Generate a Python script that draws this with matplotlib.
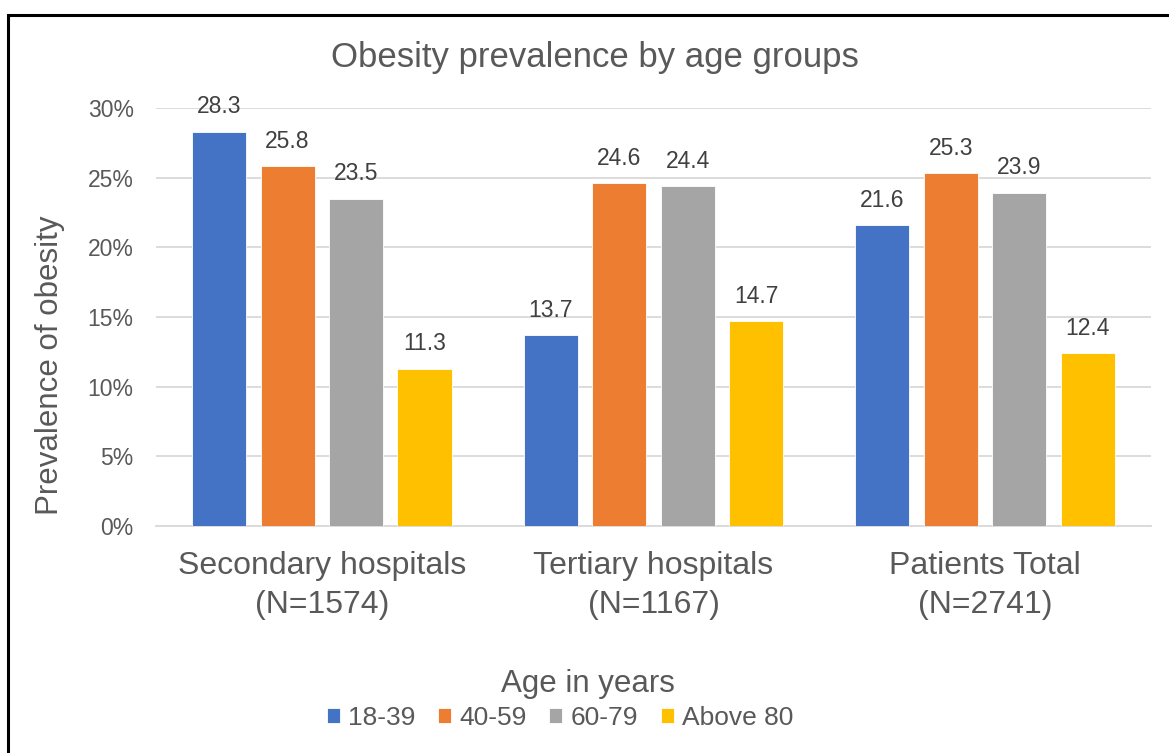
import matplotlib.pyplot as plt
import numpy as np
from matplotlib.patches import Rectangle
from matplotlib import font_manager

plt.rcParams['font.family'] = ['Liberation Sans', 'DejaVu Sans']

# Chart data
categories = ['Secondary hospitals\n(N=1574)', 'Tertiary hospitals\n(N=1167)', 'Patients Total\n(N=2741)']
age_groups = ['18-39', '40-59', '60-79', 'Above 80']
age_18_39 = [28.3, 13.7, 21.6]
age_40_59 = [25.8, 24.6, 25.3]
age_60_79 = [23.5, 24.4, 23.9]
age_80_up = [11.3, 14.7, 12.4]
yticks = [0, 5, 10, 15, 20, 25, 30]

colors = ['#4472C4', '#ED7D31', '#A5A5A5', '#FFC000']
text_color = '#595959'

# the legend in the original uses a narrow font; use one if there is one
installed = {f.name for f in font_manager.fontManager.ttflist}
if 'Liberation Sans Narrow' in installed:
    legend_font = {'family': 'Liberation Sans Narrow', 'size': 22}
else:
    legend_font = {'family': 'Liberation Sans', 'size': 19}

fig = plt.figure(figsize=(11.69, 7.53), dpi=100)
ax = fig.add_axes([0.1334, 0.3015, 0.8512, 0.5551])

x = np.arange(len(categories))
pitch = 0.2065
width = 0.163
series = [age_18_39, age_40_59, age_60_79, age_80_up]
for i, (vals, label, color) in enumerate(zip(series, age_groups, colors)):
    pos = x + (i - 1.5) * pitch
    bars = ax.bar(pos, vals, width, color=color, label=label,
                  edgecolor='white', linewidth=0.6, zorder=3)
    for b, v in zip(bars, vals):
        ax.annotate(f'{v:.1f}', (b.get_x() + b.get_width() / 2, v),
                    xytext=(0, 18), textcoords='offset points',
                    ha='center', va='center', fontsize=16.5, color='#404040')

ax.set_xlim(-0.5, 2.5)
ax.set_ylim(0, 30)
ax.set_yticks(yticks)
ax.set_yticklabels([f'{t}%' for t in yticks])
ax.set_xticks(x)
ax.set_xticklabels(categories, linespacing=1.4)
ax.tick_params(axis='y', labelsize=16.5, colors=text_color, length=0, pad=16)
ax.tick_params(axis='x', labelsize=23, colors=text_color, length=0, pad=18)
ax.grid(axis='y', color='#D9D9D9', linewidth=1.3, zorder=0)
for s in ['top', 'right', 'left']:
    ax.spines[s].set_visible(False)
ax.spines['bottom'].set_color('#D9D9D9')
ax.spines['bottom'].set_linewidth(1.3)

fig.text(50 / 1169, 1 - 365 / 753, 'Prevalence of obesity', rotation=90,
         ha='center', va='center', fontsize=22.5, color=text_color)
fig.text(0.509, 0.924, 'Obesity prevalence by age groups', ha='center', va='center',
         fontsize=25, color=text_color)

fs_px = legend_font['size'] * 100 / 72
leg = fig.legend(loc='center', bbox_to_anchor=(0.479, 0.047), ncol=4,
                 frameon=False, prop=legend_font,
                 handlelength=13 / fs_px, handleheight=13 / fs_px,
                 handletextpad=8 / fs_px, columnspacing=23 / fs_px, borderpad=0)
for t in leg.get_texts():
    t.set_color(text_color)
fig.text(588 / 1169, 1 - 684 / 753, 'Age in years', ha='center', va='center',
         fontsize=22.5, color=text_color)

# outer frame
fig.patches.append(Rectangle((8 / 1169, -0.05), 1.2, 1 - 15 / 753 + 0.05,
                             transform=fig.transFigure, fill=False,
                             edgecolor='black', linewidth=2.2))

fig.savefig('out.png', dpi=100)
